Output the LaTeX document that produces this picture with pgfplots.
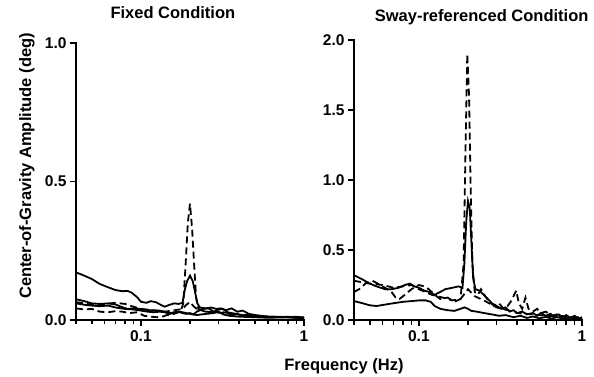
\documentclass[border=0pt]{standalone}
\usepackage{fontspec}
\setmainfont{Liberation Sans}
\usepackage{pgfplots}
\pgfplotsset{compat=1.18}

\pgfplotsset{
  mypanel/.style={
    xmin=0.04, xmax=1, ymin=0,
    scale only axis, width=228pt,
    axis line style={draw=none},
    xtick pos=left, ytick pos=left,
    xtick={0.1,1}, xticklabels={0.1,1},
    minor xtick={0.04,0.05,0.06,0.07,0.08,0.09,0.2,0.3,0.4,0.5,0.6,0.7,0.8,0.9},
    tick align=outside,
    major tick length=6pt, minor tick length=4.5pt,
    tick style={draw=black, line width=1.4pt},
    /pgf/number format/assume math mode=true,
    yticklabel style={/pgf/number format/.cd, fixed, fixed zerofill, precision=1},
    tick label style={font=\bfseries\fontsize{15.5}{18}\selectfont},
    xticklabel style={yshift=-1pt},
    title style={font=\bfseries\fontsize{16.5}{19}\selectfont, anchor=base},
    label style={font=\bfseries\fontsize{16.5}{19}\selectfont},
    clip=false,
  },
}
\tikzset{
  sol/.style={black, line width=1.8pt, solid},
  dsh/.style={black, line width=1.8pt, dash pattern=on 7pt off 4pt},
  axl/.style={black, line width=1.4pt, line cap=rect}
}

\begin{document}
\begin{tikzpicture}
% ---------------- Fixed condition ----------------
\begin{axis}[xmode=log, mypanel, at={(0pt,0pt)}, height=277pt,
  ymax=1, ytick={0,0.5,1},
  title={Fixed Condition},
  title style={at={(rel axis cs:0.425,1)}, yshift=18pt},
  ylabel={Center-of-Gravity Amplitude (deg)},
  ylabel style={at={(rel axis cs:-0.215,0.556)}, anchor=center},
]
\draw[axl] (rel axis cs:0,1) -- (rel axis cs:0,0) -- (rel axis cs:1,0);
\addplot[sol] coordinates {
(0.040,0.172)(0.045,0.160)(0.050,0.148)(0.056,0.130)(0.063,0.118)(0.070,0.108)
(0.077,0.104)(0.083,0.105)(0.088,0.098)(0.095,0.082)(0.100,0.066)(0.108,0.062)
(0.115,0.068)(0.124,0.064)(0.132,0.055)(0.140,0.048)(0.150,0.055)(0.160,0.060)
(0.170,0.058)(0.180,0.062)(0.186,0.110)(0.192,0.140)(0.200,0.160)(0.208,0.140)
(0.215,0.100)(0.222,0.060)(0.230,0.045)(0.250,0.042)(0.270,0.045)(0.290,0.040)
(0.310,0.042)(0.330,0.035)(0.360,0.042)(0.390,0.030)(0.420,0.034)(0.460,0.022)
(0.500,0.018)(0.550,0.015)(0.600,0.012)(0.700,0.012)(0.800,0.010)(0.900,0.012)
(1.000,0.008)};
\addplot[sol] coordinates {
(0.040,0.075)(0.045,0.068)(0.050,0.060)(0.056,0.058)(0.063,0.060)(0.070,0.056)
(0.077,0.046)(0.083,0.040)(0.090,0.042)(0.100,0.040)(0.110,0.036)(0.120,0.034)
(0.130,0.034)(0.140,0.030)(0.150,0.025)(0.160,0.028)(0.170,0.030)(0.180,0.025)
(0.190,0.022)(0.200,0.025)(0.210,0.020)(0.220,0.030)(0.240,0.040)(0.260,0.042)
(0.280,0.030)(0.300,0.038)(0.320,0.040)(0.340,0.028)(0.360,0.025)(0.400,0.020)
(0.450,0.015)(0.500,0.012)(0.600,0.012)(0.700,0.010)(0.800,0.012)(0.900,0.008)
(1.000,0.010)};
\addplot[sol] coordinates {
(0.040,0.060)(0.045,0.055)(0.050,0.052)(0.056,0.050)(0.063,0.052)(0.070,0.045)
(0.080,0.040)(0.090,0.038)(0.100,0.034)(0.110,0.030)(0.120,0.028)(0.130,0.030)
(0.140,0.028)(0.150,0.022)(0.160,0.025)(0.170,0.030)(0.180,0.028)(0.200,0.022)
(0.220,0.018)(0.250,0.022)(0.280,0.025)(0.300,0.030)(0.320,0.020)(0.350,0.015)
(0.400,0.012)(0.500,0.010)(0.600,0.008)(0.800,0.010)(1.000,0.006)};
\addplot[dsh] coordinates {
(0.040,0.042)(0.045,0.038)(0.050,0.040)(0.056,0.030)(0.063,0.028)(0.070,0.032)
(0.077,0.030)(0.085,0.025)(0.095,0.028)(0.105,0.015)(0.115,0.012)(0.125,0.010)
(0.135,0.012)(0.145,0.018)(0.155,0.020)(0.165,0.025)(0.175,0.030)(0.182,0.060)
(0.188,0.200)(0.194,0.350)(0.200,0.420)(0.206,0.330)(0.212,0.200)(0.218,0.080)
(0.225,0.040)(0.250,0.030)(0.280,0.028)(0.320,0.025)(0.360,0.020)(0.400,0.018)
(0.500,0.014)(0.600,0.012)(0.800,0.010)(1.000,0.008)};
\addplot[dsh] coordinates {
(0.040,0.065)(0.050,0.055)(0.060,0.058)(0.070,0.062)(0.080,0.058)(0.090,0.048)
(0.100,0.040)(0.120,0.035)(0.140,0.030)(0.160,0.035)(0.180,0.040)(0.190,0.055)
(0.200,0.065)(0.210,0.050)(0.220,0.040)(0.250,0.030)(0.300,0.030)(0.400,0.020)
(0.600,0.012)(1.000,0.008)};
\end{axis}

% ---------------- Sway-referenced condition ----------------
\begin{axis}[xmode=log, mypanel, at={(278pt,0pt)}, height=280pt,
  ymax=2, ytick={0,0.5,1,1.5,2},
  title={Sway-referenced Condition},
  title style={at={(rel axis cs:0.56,1)}, yshift=12pt},
  xlabel={Frequency (Hz)},
  xlabel style={at={(rel axis cs:-0.044,0)}, anchor=base, yshift=-50pt},
]
\draw[axl] (rel axis cs:0,1) -- (rel axis cs:0,0) -- (rel axis cs:1,0);
\addplot[sol] coordinates {
(0.040,0.32)(0.045,0.29)(0.050,0.26)(0.055,0.24)(0.062,0.22)(0.068,0.22)
(0.075,0.23)(0.082,0.25)(0.088,0.26)(0.094,0.24)(0.100,0.23)(0.108,0.21)
(0.116,0.20)(0.125,0.18)(0.135,0.20)(0.145,0.22)(0.160,0.23)(0.175,0.24)
(0.185,0.23)(0.190,0.40)(0.195,0.70)(0.200,0.85)(0.205,0.80)(0.210,0.55)
(0.215,0.30)(0.222,0.22)(0.235,0.21)(0.250,0.18)(0.265,0.15)(0.280,0.12)
(0.300,0.10)(0.320,0.08)(0.340,0.09)(0.360,0.06)(0.380,0.07)(0.400,0.05)
(0.430,0.06)(0.460,0.04)(0.500,0.05)(0.530,0.03)(0.560,0.05)(0.600,0.03)
(0.640,0.045)(0.680,0.02)(0.720,0.04)(0.760,0.02)(0.800,0.035)(0.850,0.015)
(0.900,0.03)(0.950,0.01)(1.000,0.02)};
\addplot[sol] coordinates {
(0.040,0.135)(0.045,0.12)(0.050,0.105)(0.055,0.100)(0.062,0.110)(0.070,0.120)
(0.080,0.130)(0.090,0.135)(0.100,0.140)(0.110,0.140)(0.118,0.130)(0.125,0.100)
(0.135,0.080)(0.150,0.070)(0.165,0.065)(0.180,0.080)(0.190,0.090)(0.200,0.080)
(0.210,0.065)(0.225,0.060)(0.250,0.050)(0.280,0.040)(0.310,0.030)(0.340,0.035)
(0.380,0.020)(0.420,0.030)(0.460,0.015)(0.500,0.025)(0.550,0.012)(0.600,0.022)
(0.650,0.010)(0.700,0.020)(0.780,0.010)(0.860,0.018)(1.000,0.008)};
\addplot[dsh] coordinates {
(0.040,0.20)(0.043,0.22)(0.047,0.26)(0.052,0.28)(0.058,0.25)(0.064,0.22)
(0.068,0.20)(0.072,0.16)(0.076,0.15)(0.082,0.18)(0.090,0.22)(0.100,0.25)
(0.108,0.24)(0.115,0.22)(0.125,0.18)(0.135,0.15)(0.150,0.16)(0.165,0.13)
(0.180,0.15)(0.188,0.40)(0.193,1.20)(0.198,1.90)(0.203,1.60)(0.208,0.90)
(0.213,0.40)(0.220,0.20)(0.230,0.18)(0.240,0.22)(0.255,0.17)(0.270,0.13)
(0.290,0.10)(0.310,0.12)(0.330,0.08)(0.350,0.10)(0.370,0.14)(0.395,0.21)
(0.410,0.12)(0.430,0.08)(0.450,0.16)(0.470,0.08)(0.500,0.06)(0.530,0.08)
(0.560,0.05)(0.600,0.06)(0.650,0.03)(0.700,0.04)(0.800,0.02)(1.000,0.02)};
\addplot[dsh] coordinates {
(0.040,0.28)(0.050,0.26)(0.060,0.25)(0.070,0.23)(0.080,0.24)(0.090,0.25)
(0.100,0.22)(0.120,0.18)(0.140,0.16)(0.160,0.14)(0.180,0.15)(0.200,0.22)
(0.220,0.17)(0.250,0.14)(0.300,0.09)(0.350,0.07)(0.400,0.05)(0.500,0.04)
(0.600,0.03)(0.800,0.02)(1.000,0.01)};
\end{axis}
\path[use as bounding box] (-76pt,-57pt) rectangle (518pt,320pt);
\end{tikzpicture}
\end{document}
